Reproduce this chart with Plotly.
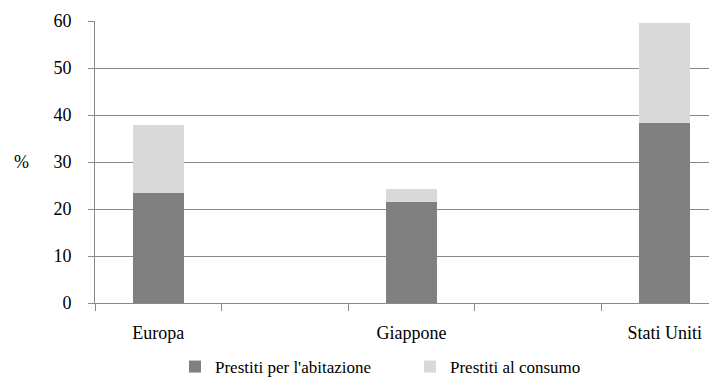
import plotly.graph_objects as go

categories = ["Europa", "Giappone", "Stati Uniti"]
cat_pos = [0, 2, 4]
abitazione = [23.5, 21.5, 38.4]
consumo = [14.4, 2.8, 21.2]
y_ticks = [0, 10, 20, 30, 40, 50, 60]
series_names = ["Prestiti per l'abitazione", "Prestiti al consumo"]

FONT = "Liberation Serif"
GRID = "#898989"

fig = go.Figure()
fig.add_bar(x=cat_pos, y=abitazione, name=series_names[0], marker_color="#808080",
            marker_line_width=0, width=0.4)
fig.add_bar(x=cat_pos, y=consumo, name=series_names[1], marker_color="#d9d9d9",
            marker_line_width=0, width=0.4)

fig.update_layout(
    barmode="stack",
    width=709, height=385,
    margin=dict(l=95, r=0, t=21, b=82),
    paper_bgcolor="white", plot_bgcolor="white",
    font=dict(family=FONT, size=18, color="black"),
    showlegend=True,
    legend=dict(orientation="h", xref="container", yref="container",
                x=175 / 709, xanchor="left", y=-0.02, yanchor="bottom",
                font=dict(family=FONT, size=17, color="black"), itemwidth=30,
                entrywidth=190, traceorder="normal"),
    annotations=[dict(text="%", xref="paper", yref="paper", x=-0.119, y=0.5,
                      xanchor="center", yanchor="middle", showarrow=False,
                      font=dict(family=FONT, size=18, color="black"))],
)
fig.update_xaxes(
    range=[-0.5, 4.35],
    tickvals=cat_pos, ticktext=categories, ticks="",
    tickfont=dict(family=FONT, size=18, color="black"),
    ticklabelstandoff=13,
    showline=True, linecolor=GRID, linewidth=1,
    showgrid=False, zeroline=False,
    minor=dict(tickvals=[-0.5, 0.5, 1.5, 2.5, 3.5], ticks="outside",
               ticklen=7, tickcolor=GRID, tickwidth=1, showgrid=False),
)
fig.update_yaxes(
    range=[0, 60], tickvals=y_ticks,
    tickfont=dict(family=FONT, size=18, color="black"),
    ticks="outside", ticklen=6, tickcolor=GRID,
    ticklabelstandoff=13,
    showline=True, linecolor=GRID, linewidth=1,
    showgrid=True, gridcolor=GRID, gridwidth=1, zeroline=False,
)

fig.write_html("out.html")
